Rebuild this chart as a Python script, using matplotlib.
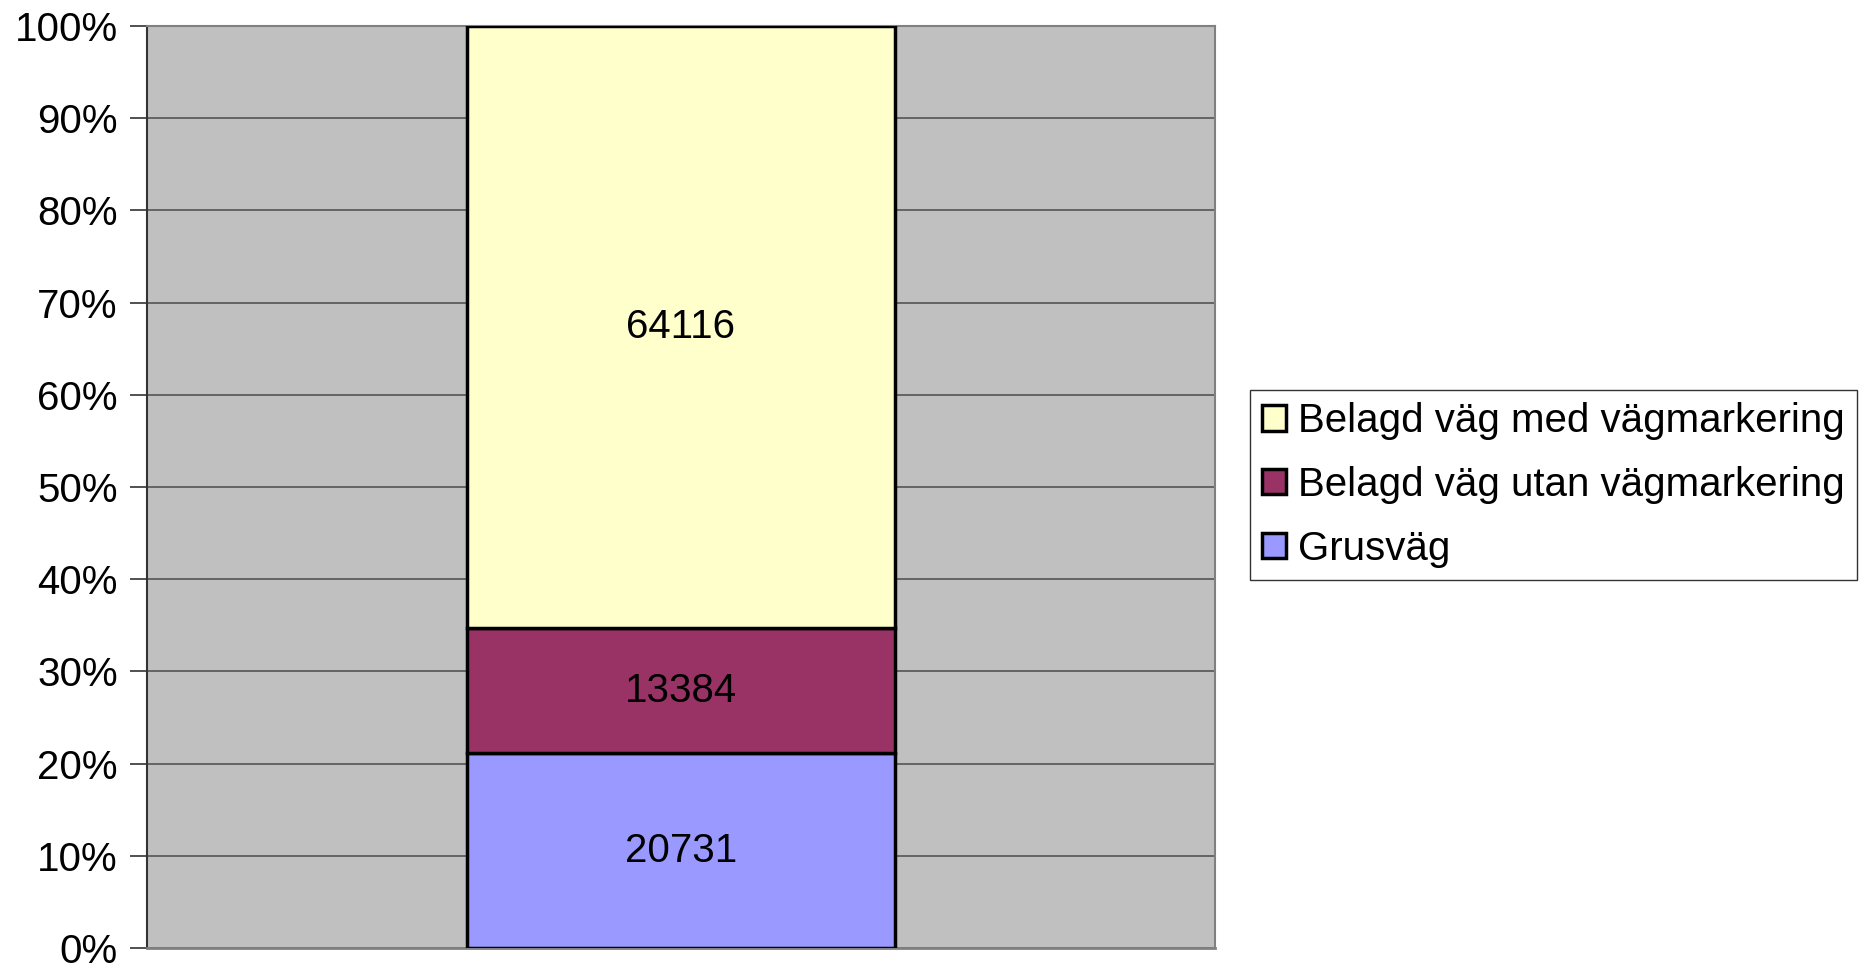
import matplotlib.pyplot as plt
import numpy as np

plt.rcParams['font.family'] = ['Liberation Sans', 'DejaVu Sans']

# data (bottom to top)
series = ["Grusväg", "Belagd väg utan vägmarkering", "Belagd väg med vägmarkering"]
values = [20731, 13384, 64116]
colors = ["#9999FF", "#993366", "#FFFFCC"]

total = sum(values)
shares = [v / total * 100 for v in values]

fig = plt.figure(figsize=(18.74, 9.64), dpi=100)
ax = fig.add_axes([147 / 1874, 1 - 948 / 964, (1215 - 147) / 1874, (948 - 26) / 964])
ax.set_facecolor("#C0C0C0")

bottom = 0
bars = []
for name, s, v, c in zip(series, shares, values, colors):
    b = ax.bar(0, s, width=0.4, bottom=bottom, color=c, edgecolor="black",
               linewidth=2.5, label=name, zorder=3)
    ax.text(0, bottom + s / 2, str(v), ha="center", va="center", fontsize=29, zorder=4)
    bars.append(b)
    bottom += s

ax.set_xlim(-0.5, 0.5)
ax.set_ylim(0, 100)
ax.set_yticks(np.arange(0, 101, 10))
ax.set_yticklabels([f"{t}%" for t in range(0, 101, 10)], fontsize=29)
ax.set_xticks([])
ax.yaxis.grid(True, color="#555555", linewidth=1.2, zorder=1)
ax.tick_params(axis="y", length=12, width=1.2, color="#333333", pad=9)
for side in ["top", "right"]:
    ax.spines[side].set_color("#808080")
    ax.spines[side].set_linewidth(1.5)
ax.spines["left"].set_color("#333333")
ax.spines["bottom"].set_color("#808080")
ax.spines["left"].set_linewidth(1.5)
ax.spines["bottom"].set_linewidth(2)

# legend, top series first
handles = bars[::-1]
labels = series[::-1]
leg = fig.legend(handles, labels, loc="upper left",
                 bbox_to_anchor=(1250 / 1874, 1 - 390 / 964),
                 fontsize=29, frameon=True, fancybox=False, edgecolor="black",
                 handlelength=0.6, handleheight=0.6, handletextpad=0.3,
                 labelspacing=0.64, borderpad=0.3, borderaxespad=0)
leg.get_frame().set_linewidth(1)

plt.savefig("out.png", dpi=100)
